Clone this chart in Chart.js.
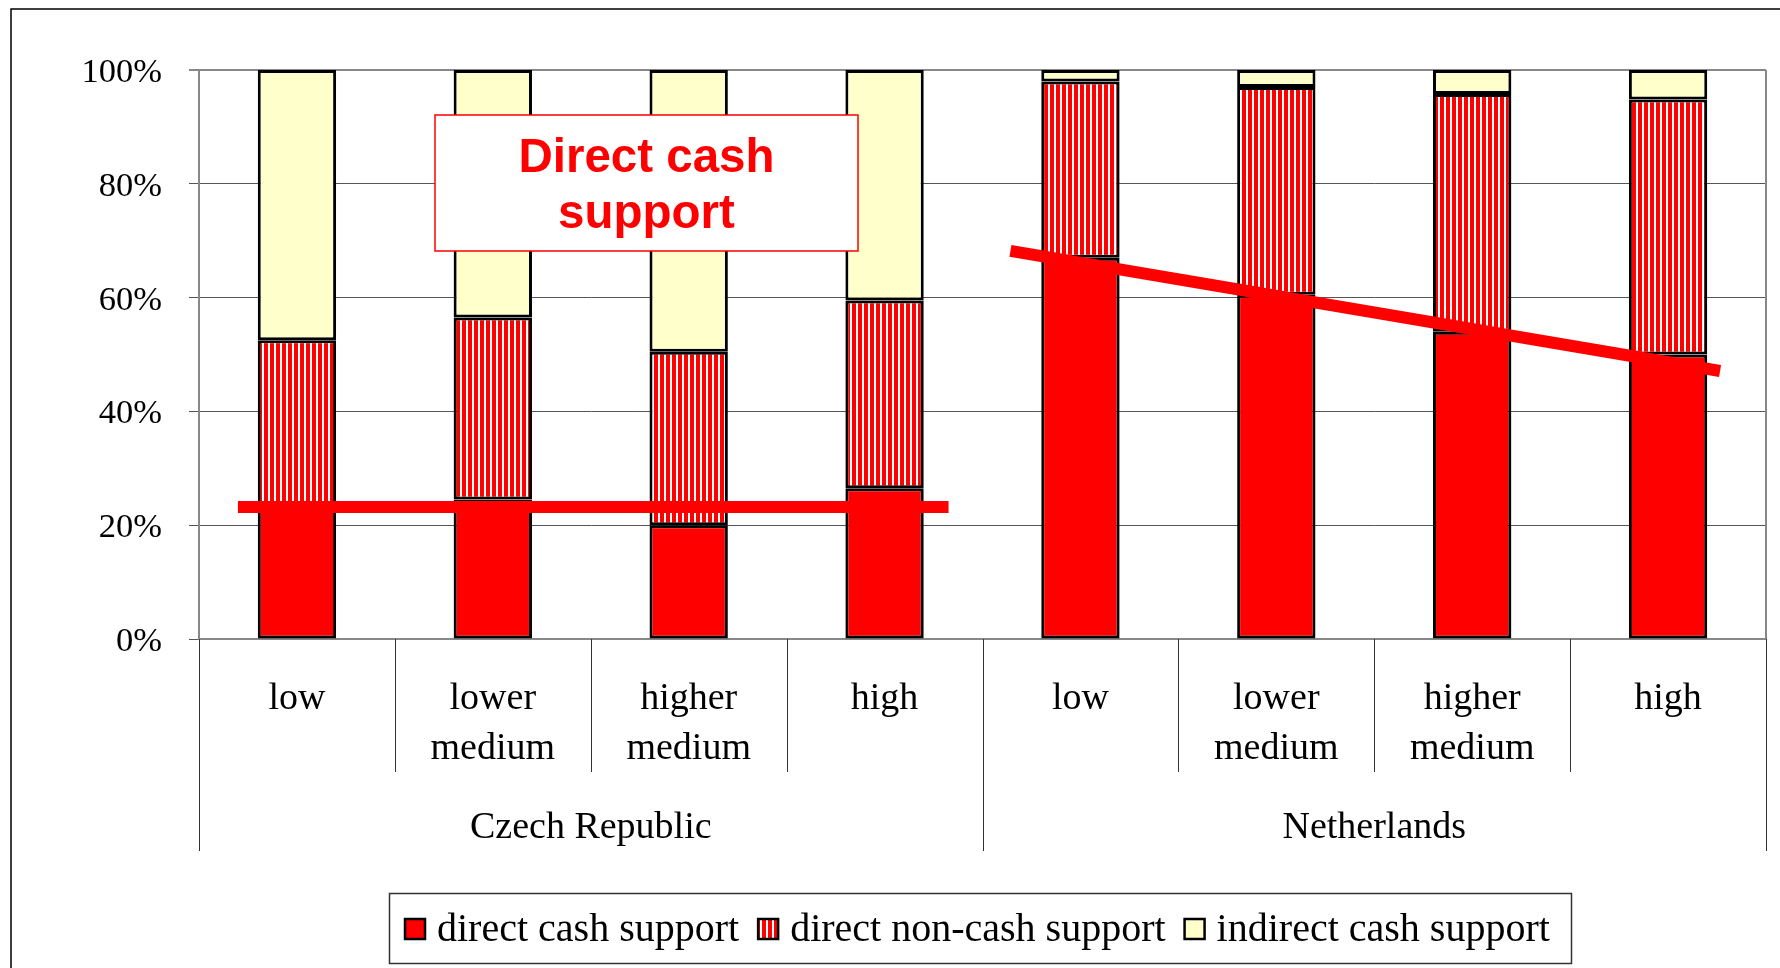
<!DOCTYPE html>
<html>
<head>
<meta charset="utf-8">
<script src="https://cdn.jsdelivr.net/npm/chart.js@4.4.1/dist/chart.umd.min.js"></script>
<style>
  html, body { margin: 0; padding: 0; background: #fff; }
</style>
</head>
<body>
<canvas id="Chart" width="1780" height="968"></canvas>
<script>
// Data
const categories = ['low', ['lower', 'medium'], ['higher', 'medium'], 'high',
                    'low', ['lower', 'medium'], ['higher', 'medium'], 'high'];
const groups = ['Czech Republic', 'Netherlands'];
const seriesNames = ['direct cash support', 'direct non-cash support', 'indirect cash support'];
const directCash = [23, 24.5, 20, 26.5, 67, 60.5, 54, 50];
const directNonCash = [29.5, 32, 30.5, 33, 31, 36.5, 41.8, 44.8];
const indirectCash = [47.5, 43.5, 49.5, 40.5, 2, 3, 4.2, 5.2];
const yTicks = [0, 20, 40, 60, 80, 100];
// hand drawn trend lines (start value, end value)
const czTrend = [23.2, 23.2];
const nlTrend = [68.2, 47.1];
const noteLines = ['Direct cash', 'support'];

const serif = '"Liberation Serif", "Times New Roman", serif';
const sans = '"Liberation Sans", Arial, sans-serif';

// vertical red/white stripes for the non-cash series
function stripes() {
  const c = document.createElement('canvas');
  c.width = 6; c.height = 6;
  const g = c.getContext('2d');
  g.fillStyle = '#ffffff';
  g.fillRect(0, 0, 6, 6);
  g.fillStyle = '#ff0000';
  g.fillRect(0, 0, 4, 6);
  return g.createPattern(c, 'repeat');
}
const hatch = stripes();
const fills = ['#ff0000', hatch, '#ffffcc'];

const extras = {
  id: 'extras',
  afterDatasetsDraw(chart) {
    const { ctx, chartArea: a, scales: { x, y } } = chart;
    const n = categories.length;
    const edge = i => i === 0 ? a.left : i === n ? a.right
      : (x.getPixelForValue(i - 1) + x.getPixelForValue(i)) / 2;
    ctx.save();

    // right border of the plot
    ctx.strokeStyle = '#888';
    ctx.lineWidth = 2;
    ctx.beginPath();
    ctx.moveTo(a.right, a.top);
    ctx.lineTo(a.right, a.bottom);
    ctx.stroke();

    // dividers under the axis
    ctx.strokeStyle = '#333';
    ctx.lineWidth = 1;
    for (let i = 0; i <= n; i++) {
      const px = Math.round(edge(i)) + 0.5;
      ctx.beginPath();
      ctx.moveTo(px, a.bottom);
      ctx.lineTo(px, a.bottom + (i % 4 === 0 ? 212 : 133));
      ctx.stroke();
    }

    // group labels
    ctx.fillStyle = '#000';
    ctx.font = '38px ' + serif;
    ctx.textAlign = 'center';
    ctx.textBaseline = 'middle';
    groups.forEach((g, k) => {
      ctx.fillText(g, (edge(k * 4) + edge(k * 4 + 4)) / 2, a.bottom + 189);
    });

    // trend lines
    ctx.strokeStyle = '#ff0000';
    ctx.lineWidth = 12;
    ctx.lineCap = 'butt';
    ctx.beginPath();
    ctx.moveTo(x.getPixelForValue(0) - 59, y.getPixelForValue(czTrend[0]));
    ctx.lineTo(x.getPixelForValue(3) + 64, y.getPixelForValue(czTrend[1]));
    ctx.stroke();
    ctx.beginPath();
    ctx.moveTo(x.getPixelForValue(4) - 70, y.getPixelForValue(nlTrend[0]));
    ctx.lineTo(x.getPixelForValue(7) + 52, y.getPixelForValue(nlTrend[1]));
    ctx.stroke();

    // note box
    const bx = a.left + 236, by = a.top + 45, bw = 423, bh = 136;
    ctx.fillStyle = '#fff';
    ctx.fillRect(bx, by, bw, bh);
    ctx.strokeStyle = '#ff0000';
    ctx.lineWidth = 1.5;
    ctx.strokeRect(bx, by, bw, bh);
    ctx.fillStyle = '#ff0000';
    ctx.font = 'bold 47.5px ' + sans;
    ctx.fillText(noteLines[0], bx + bw / 2, by + 44);
    ctx.fillText(noteLines[1], bx + bw / 2, by + 100);

    // legend
    ctx.strokeStyle = '#333';
    ctx.lineWidth = 1.5;
    ctx.strokeRect(389.5, 893.5, 1182, 70);
    ctx.font = '40px ' + serif;
    ctx.textAlign = 'left';
    let lx = 405;
    const ly = 929;
    seriesNames.forEach((name, k) => {
      ctx.fillStyle = fills[k];
      ctx.fillRect(lx, ly - 10, 20, 20);
      ctx.strokeStyle = '#000';
      ctx.lineWidth = 2.5;
      ctx.strokeRect(lx, ly - 10, 20, 20);
      ctx.fillStyle = '#000';
      ctx.fillText(name, lx + 32, ly + 1);
      lx += 32 + ctx.measureText(name).width + 19;
    });

    // outer frame
    ctx.strokeStyle = '#000';
    ctx.lineWidth = 1.5;
    ctx.beginPath();
    ctx.moveTo(11, 975);
    ctx.lineTo(11, 9);
    ctx.lineTo(1790, 9);
    ctx.stroke();
    ctx.restore();
  }
};

const data = {
  labels: categories,
  datasets: [
    { label: seriesNames[0], data: directCash, backgroundColor: fills[0] },
    { label: seriesNames[1], data: directNonCash, backgroundColor: fills[1] },
    { label: seriesNames[2], data: indirectCash, backgroundColor: fills[2] }
  ].map(d => Object.assign(d, {
    borderColor: '#000',
    borderWidth: 3,
    borderSkipped: false,
    categoryPercentage: 1,
    barPercentage: 0.4
  }))
};

const config = {
  type: 'bar',
  data: data,
  options: {
    responsive: false,
    animation: false,
    devicePixelRatio: 1,
    layout: { padding: { left: 0, right: 14, top: 70, bottom: 114 } },
    plugins: {
      legend: { display: false },
      tooltip: { enabled: false }
    },
    scales: {
      x: {
        stacked: true,
        grid: { display: false, drawTicks: false },
        border: { display: true, color: '#888', width: 2 },
        ticks: {
          autoSkip: false,
          maxRotation: 0,
          padding: 35,
          color: '#000',
          font: { family: serif, size: 38, lineHeight: 1.32 }
        },
        afterFit(scale) { scale.height = 215; }
      },
      y: {
        stacked: true,
        min: 0,
        max: 100,
        afterBuildTicks(scale) { scale.ticks = yTicks.map(v => ({ value: v })); },
        grid: {
          color: ctx => ctx.tick && ctx.tick.value === 100 ? '#888' : '#555',
          lineWidth: ctx => ctx.tick && ctx.tick.value === 100 ? 2 : 1,
          tickLength: 10
        },
        border: { display: true, color: '#888', width: 2 },
        ticks: {
          padding: 27,
          labelOffset: 3,
          color: '#000',
          font: { family: serif, size: 34.5 },
          callback: v => v + '%'
        },
        afterFit(scale) { scale.width = 199; }
      }
    }
  },
  plugins: [extras]
};

window.addEventListener('load', () => {
  const ctx = document.getElementById('Chart');
  new Chart(ctx, config);
});
</script>
</body>
</html>
